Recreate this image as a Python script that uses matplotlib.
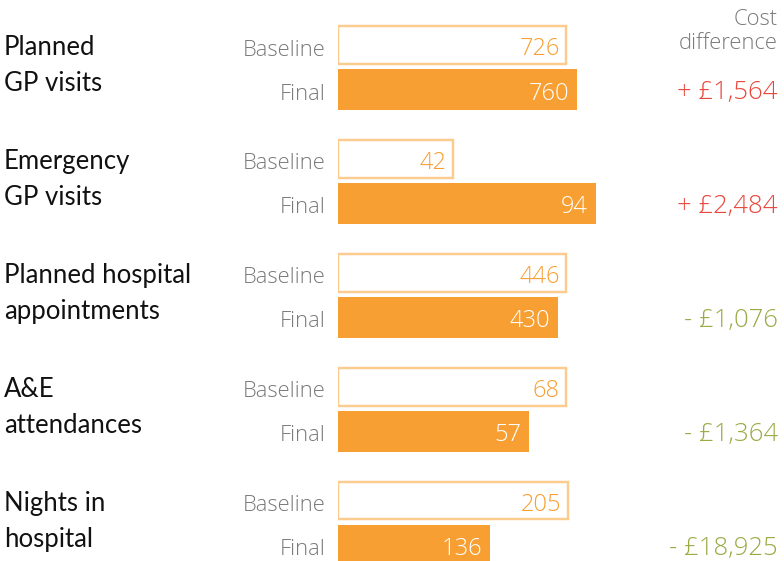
import matplotlib
matplotlib.use("Agg")
import matplotlib.pyplot as plt

# ---- data ----
categories = ["Planned\nGP visits", "Emergency\nGP visits", "Planned hospital\nappointments",
              "A&E\nattendances", "Nights in\nhospital"]
baseline = [726, 42, 446, 68, 205]
final = [760, 94, 430, 57, 136]
cost_diff = ["+ £1,564", "+ £2,484", "- £1,076", "- £1,364", "- £18,925"]
row_labels = ["Baseline", "Final"]
header = "Cost\ndifference"

# per-category scale (axis upper limit)
xmax = [961, 110.3, 591.5, 90.2, 270]

# ---- style ----
W, H = 784, 561
ORANGE = "#F79F33"
LIGHT = "#FCCB8E"
GRAY = "#7A7A7A"
RED = "#E8473C"
GREEN = "#9BAA45"
FONT = "Lato"
LFONT = "Open Sans"
LW = "light"
BLOCK = 113.9

fig = plt.figure(figsize=(W / 100, H / 100), dpi=100)

over = fig.add_axes([0, 0, 1, 1])
over.set_xlim(0, W)
over.set_ylim(H, 0)
over.axis("off")

for i, cat in enumerate(categories):
    top = BLOCK * i
    ax = fig.add_axes([337.5 / W, 1 - (top + BLOCK) / H, 303 / W, BLOCK / H])
    ax.set_xlim(0, xmax[i])
    ax.set_ylim(BLOCK, 0)
    ax.axis("off")
    ax.barh(45, baseline[i], height=37.6, left=0, color="white",
            edgecolor=LIGHT, linewidth=1.75)
    ax.barh(89.5, final[i], height=41, left=0, color=ORANGE, linewidth=0)
    ax.annotate(str(baseline[i]), (baseline[i], 55), xytext=(-6, 0),
                textcoords="offset pixels", ha="right", va="baseline",
                color=ORANGE, fontsize=17, family=LFONT, weight=LW)
    ax.annotate(str(final[i]), (final[i], 99.5), xytext=(-8, 0),
                textcoords="offset pixels", ha="right", va="baseline",
                color="white", fontsize=17, family=LFONT, weight=LW)

    # category label (two lines)
    lines = cat.split("\n")
    for j, ln in enumerate(lines):
        over.text(4, top + 55 + 36 * j, ln, ha="left", va="baseline",
                  fontsize=18.5, family=FONT, color="#111111")
    over.text(326, top + 55.5, row_labels[0], ha="right", va="baseline",
              fontsize=15.8, family=LFONT, weight=LW, color=GRAY)
    over.text(326, top + 99.5, row_labels[1], ha="right", va="baseline",
              fontsize=15.8, family=LFONT, weight=LW, color=GRAY)

    col = RED if cost_diff[i].startswith("+") else GREEN
    over.text(778, top + 99, cost_diff[i], ha="right", va="baseline",
              fontsize=18.5, family=LFONT, weight=LW, color=col)

for j, ln in enumerate(header.split("\n")):
    over.text(778, 25 + 24 * j, ln, ha="right", va="baseline",
              fontsize=15.8, family=LFONT, weight=LW, color=GRAY)

fig.savefig("out.png", dpi=100)
